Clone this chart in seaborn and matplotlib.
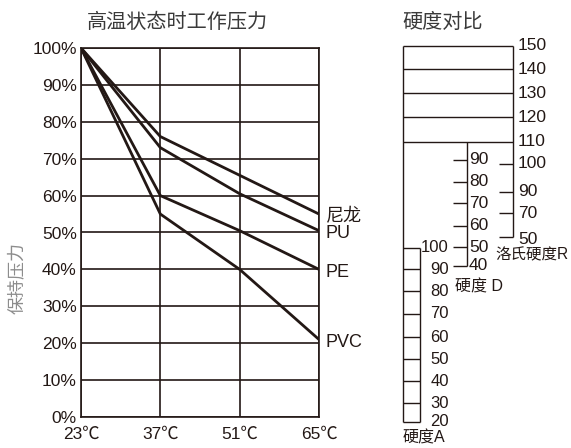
import numpy as np
import pandas as pd
import matplotlib
matplotlib.use('Agg')
import matplotlib.pyplot as plt
import seaborn as sns

# 高温状态时工作压力 (保持压力 %)
temps = ['23℃', '37℃', '51℃', '65℃']
nylon = [100, 76, 65.5, 55]
pu = [100, 73, 60.5, 50.5]
pe = [100, 60, 50.5, 40]
pvc = [100, 55, 40, 21]
series_names = ['尼龙', 'PU', 'PE', 'PVC']
y_ticks = [0, 10, 20, 30, 40, 50, 60, 70, 80, 90, 100]

# 硬度对比: 각 경도 스케일 값과 공통 높이(픽셀 기준 레벨)
r_values = [150, 140, 130, 120, 110, 100, 90, 70, 50]
r_level = [46, 69, 93, 117, 142, 164, 192, 213, 237]
d_values = [90, 80, 70, 60, 50, 40]
d_level = [160, 182, 203, 226, 247, 266]
a_values = [100, 90, 80, 70, 60, 50, 40, 30, 20]
a_level = [248, 269, 291, 314, 337, 359, 381, 403, 422]

INK = '#231815'
FONTS = ['Liberation Sans', 'Noto Sans CJK SC', 'DejaVu Sans']

sns.set_style('white')
plt.rcParams['font.family'] = FONTS

fig = plt.figure(figsize=(5.71, 4.48), dpi=100)

# ---- 왼쪽: 라인 차트 ----
ax = fig.add_axes([81 / 571, 31 / 448, 238 / 571, 369 / 448])
df = pd.DataFrame({'x': np.arange(len(temps))})
for name, vals in zip(series_names, [nylon, pu, pe, pvc]):
    sns.lineplot(x=df['x'], y=vals, color=INK, lw=2.0, ax=ax, legend=False)
    ax.annotate(name, (len(temps) - 1, vals[-1]), xytext=(5, -2),
                textcoords='offset points', va='center', ha='left',
                fontsize=13, color=INK)

ax.set_xlim(0, len(temps) - 1)
ax.set_ylim(0, 100)
ax.set_xticks(np.arange(len(temps)))
ax.set_xticklabels(temps)
ax.set_yticks(y_ticks)
ax.set_yticklabels([f'{v}%' for v in y_ticks])
ax.grid(True, color=INK, lw=1.2)
ax.set_axisbelow(True)
for s in ax.spines.values():
    s.set_color(INK)
    s.set_linewidth(1.2)
ax.tick_params(axis='y', length=2.5, width=1.2, color=INK, pad=0.5,
               labelsize=12.5, labelcolor=INK)
ax.tick_params(axis='x', length=0, pad=7, labelsize=12.5, labelcolor=INK)
ax.set_xlabel('')
ax.set_ylabel('')
fig.text(17 / 571, 1 - 278 / 448, '保持压力', rotation=90, ha='center',
         va='center', fontsize=13, color='#8c8c8c')
fig.text(177 / 571, 1 - 22 / 448, '高温状态时工作压力', ha='center',
         va='center', fontsize=14.5, color='#3a3a3a', fontweight='light')

# ---- 오른쪽: 경도 비교 ----
ax2 = fig.add_axes([0, 0, 1, 1], zorder=-1)
ax2.set_xlim(0, 571)
ax2.set_ylim(448, 0)
ax2.axis('off')
lk = dict(color=INK, lw=1.0)

box_l, r_x, d_x, a_r = 403, 513, 467, 420

# 洛氏硬度R
top_rows = [lv for v, lv in zip(r_values, r_level) if v >= 110]
ax2.hlines(top_rows, box_l, r_x, **lk)
ax2.vlines(r_x, r_level[0], r_level[-1], **lk)
for v, lv in zip(r_values, r_level):
    if v < 110:
        ax2.hlines(lv, r_x - 14, r_x, **lk)
    ax2.text(r_x + 5, lv + (2 if v == 50 else 0), str(v), ha='left',
             va='center', fontsize=12.5, color=INK)
ax2.text(495, 255, '洛氏硬度R', ha='left', va='center', fontsize=11.2,
         color=INK)

# 硬度 D
ax2.vlines(d_x, r_level[4], d_level[-1], **lk)
for v, lv in zip(d_values, d_level):
    ax2.hlines(lv, d_x - 14, d_x, **lk)
    ax2.text(d_x + 2, lv, str(v), ha='left', va='center', fontsize=12.5,
             color=INK)
ax2.text(455, 287, '硬度 D', ha='left', va='center', fontsize=11.5,
         color=INK)

# 硬度A
ax2.vlines(box_l, r_level[0], a_level[-1], **lk)
ax2.vlines(a_r, a_level[0], a_level[-1], **lk)
ax2.hlines(a_level, box_l, a_r, **lk)
for v, lv in zip(a_values, a_level):
    ax2.text(449, lv, str(v), ha='right', va='center', fontsize=12,
             color=INK)
ax2.text(box_l, 438, '硬度A', ha='left', va='center', fontsize=11.5,
         color=INK)
ax2.text(402, 22, '硬度对比', ha='left', va='center', fontsize=14.5,
         color='#3a3a3a', fontweight='light')

fig.savefig('out.png', dpi=100)
